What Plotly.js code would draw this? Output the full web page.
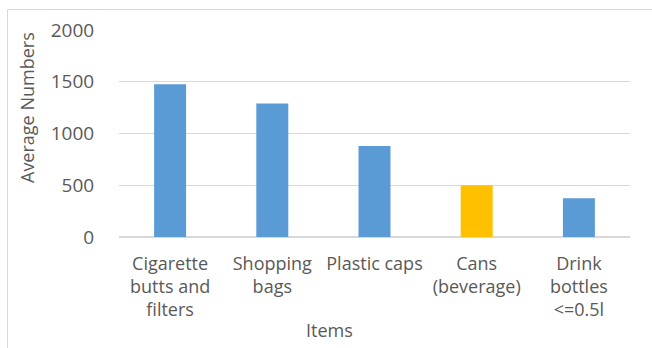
<!DOCTYPE html>
<html>
<head>
<meta charset="utf-8">
<script src="https://cdn.plot.ly/plotly-3.0.1.min.js"></script>
<style>
html,body{margin:0;padding:0;background:#fff;}
#chart{width:652px;height:348px;}
</style>
</head>
<body>
<div id="chart"></div>
<script>
const categories = ["Cigarette<br>butts and<br>filters", "Shopping<br>bags", "Plastic caps", "Cans<br>(beverage)", "Drink<br>bottles<br>&lt;=0.5l"];
const values = [1475, 1290, 880, 500, 375];
const barColors = ["#5B9BD5", "#5B9BD5", "#5B9BD5", "#FFC000", "#5B9BD5"];
const yTicks = [0, 500, 1000, 1500, 2000];

const font = "'Open Sans', 'Noto Sans', sans-serif";
const grey = "#595959";

const trace = {
  type: "bar",
  x: categories,
  y: values,
  marker: { color: barColors, line: { width: 0 } },
  hoverinfo: "none"
};

const layout = {
  width: 652,
  height: 348,
  margin: { l: 119, r: 22, t: 30, b: 111, pad: 0 },
  paper_bgcolor: "#ffffff",
  plot_bgcolor: "#ffffff",
  bargap: 0.687,
  showlegend: false,
  font: { family: font, color: grey, size: 18 },
  xaxis: {
    type: "category",
    showgrid: false,
    showline: false,
    zeroline: false,
    ticks: "outside",
    ticklen: 10,
    tickcolor: "rgba(0,0,0,0)",
    tickfont: { family: font, size: 18, color: grey },
    fixedrange: true
  },
  yaxis: {
    range: [0, 2000],
    tickvals: yTicks,
    ticktext: yTicks.map(String),
    showgrid: true,
    gridcolor: "#d9d9d9",
    gridwidth: 1,
    zeroline: true,
    zerolinecolor: "#d9d9d9",
    zerolinewidth: 1.5,
    showline: false,
    ticks: "outside",
    ticklen: 20,
    tickcolor: "rgba(0,0,0,0)",
    tickfont: { family: font, size: 19, color: grey },
    fixedrange: true
  },
  annotations: [
    {
      text: "Average Numbers",
      xref: "paper", yref: "paper",
      x: (27 - 119) / 511, y: (237 - 108) / 207,
      xanchor: "center", yanchor: "middle",
      textangle: -90, showarrow: false,
      font: { family: font, size: 18, color: grey }
    },
    {
      text: "Items",
      xref: "paper", yref: "paper",
      x: (329 - 119) / 511, y: (237 - 330) / 207,
      xanchor: "center", yanchor: "middle",
      showarrow: false,
      font: { family: font, size: 18, color: grey }
    }
  ],
  shapes: [
    {
      type: "rect", xref: "paper", yref: "paper",
      x0: (7.5 - 119) / 511, x1: (700 - 119) / 511,
      y0: (237 - 400) / 207, y1: (237 - 9.5) / 207,
      line: { color: "#d9d9d9", width: 1 },
      fillcolor: "rgba(0,0,0,0)",
      layer: "below"
    }
  ]
};

Plotly.newPlot("chart", [trace], layout, { displayModeBar: false, staticPlot: true });
</script>
</body>
</html>
